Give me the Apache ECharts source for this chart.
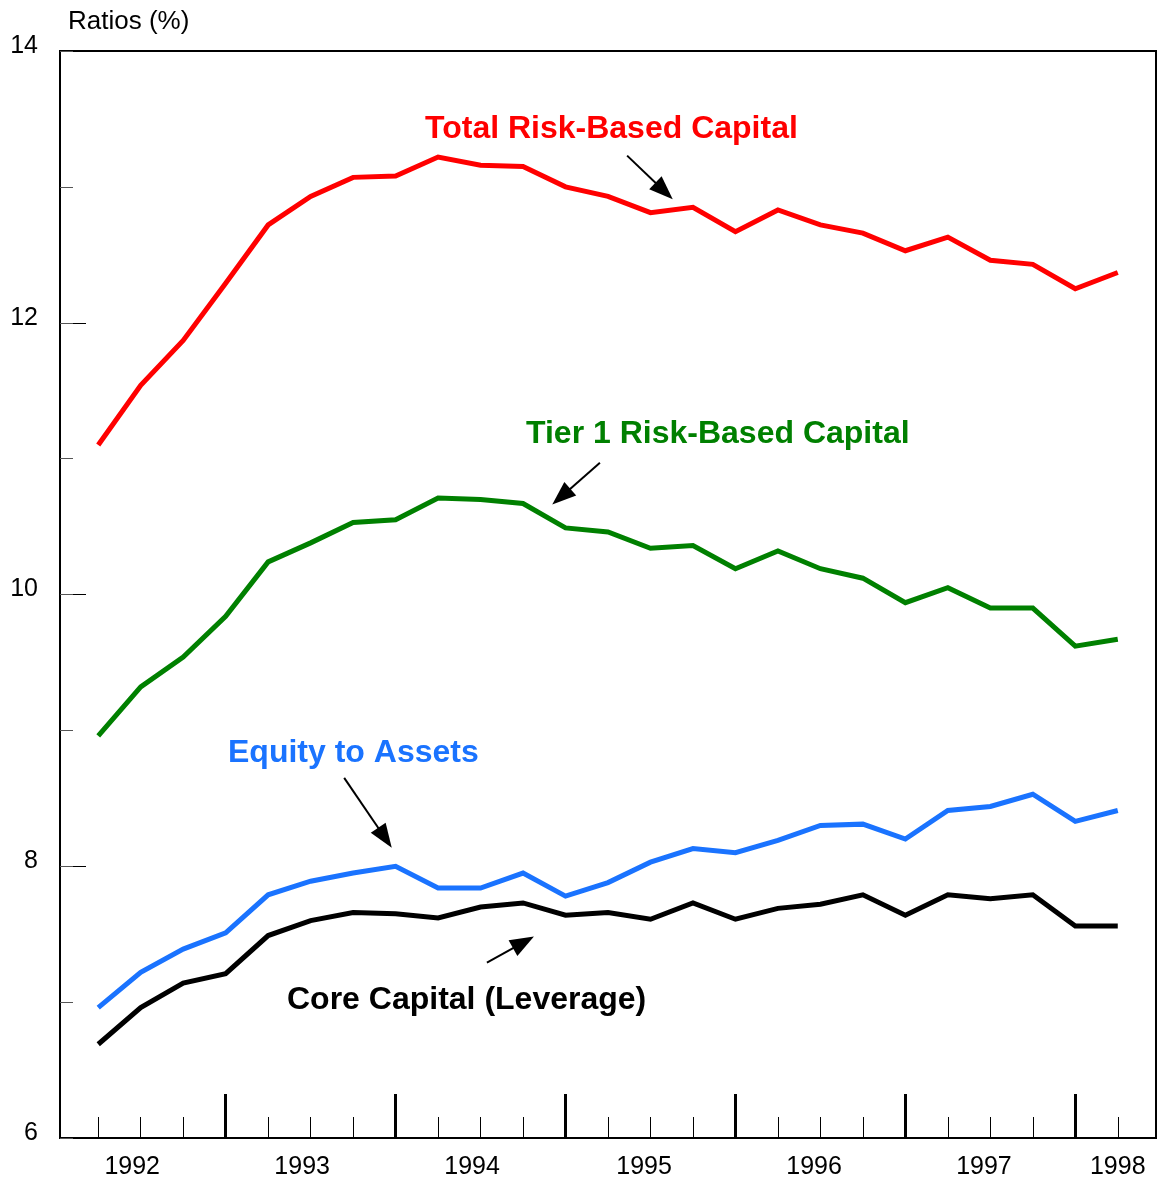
<!DOCTYPE html>
<html>
<head>
<meta charset="utf-8">
<script src="https://cdn.jsdelivr.net/npm/echarts@6/dist/echarts.min.js"></script>
<style>
  html, body { margin: 0; padding: 0; background: #fff; }
  #chart { width: 1158px; height: 1184px; }
</style>
</head>
<body>
<div id="chart"></div>
<script>
const quarters = [
  '1992Q1', '1992Q2', '1992Q3', '1992Q4',
  '1993Q1', '1993Q2', '1993Q3', '1993Q4',
  '1994Q1', '1994Q2', '1994Q3', '1994Q4',
  '1995Q1', '1995Q2', '1995Q3', '1995Q4',
  '1996Q1', '1996Q2', '1996Q3', '1996Q4',
  '1997Q1', '1997Q2', '1997Q3', '1997Q4',
  '1998Q1'
];
const totalRiskBased = [11.10, 11.54, 11.87, 12.29, 12.72, 12.93, 13.07, 13.08, 13.22, 13.16, 13.15, 13.00, 12.93, 12.81, 12.85, 12.67, 12.83, 12.72, 12.66, 12.53, 12.63, 12.46, 12.43, 12.25, 12.37];
const tier1RiskBased = [8.96, 9.32, 9.54, 9.84, 10.24, 10.38, 10.53, 10.55, 10.71, 10.70, 10.67, 10.49, 10.46, 10.34, 10.36, 10.19, 10.32, 10.19, 10.12, 9.94, 10.05, 9.90, 9.90, 9.62, 9.67];
const equityToAssets = [6.96, 7.22, 7.39, 7.51, 7.79, 7.89, 7.95, 8.00, 7.84, 7.84, 7.95, 7.78, 7.88, 8.03, 8.13, 8.10, 8.19, 8.30, 8.31, 8.20, 8.41, 8.44, 8.53, 8.33, 8.41];
const coreCapital = [6.69, 6.96, 7.14, 7.21, 7.49, 7.60, 7.66, 7.65, 7.62, 7.70, 7.73, 7.64, 7.66, 7.61, 7.73, 7.61, 7.69, 7.72, 7.79, 7.64, 7.79, 7.76, 7.79, 7.56, 7.56];
const yearLabels = ['1992', '1993', '1994', '1995', '1996', '1997', '1998'];

const FONT = "'Liberation Sans', Arial, sans-serif";

// quarter ticks: Q4 gets the tall tick
const shortTicks = [], tallTicks = [];
quarters.forEach((q, i) => (q.endsWith('Q4') ? tallTicks : shortTicks).push(i));
// year label spots along the quarter index axis
const yearLabelPos = [0.8, 4.8, 8.8, 12.85, 16.85, 20.85, 24];

const toPairs = arr => arr.map((v, i) => [i, v]);

const arrowLine = (from, to) => [{ coord: from }, { coord: to }];

const lineSeries = (name, values, color, arrow) => ({
  name: name,
  type: 'line',
  data: toPairs(values),
  showSymbol: false,
  symbol: 'none',
  lineStyle: { color: color, width: 5, join: 'miter' },
  itemStyle: { color: color },
  markLine: {
    silent: true,
    symbol: ['none', 'triangle'],
    symbolSize: [18, 24],
    label: { show: false },
    lineStyle: { color: '#000', width: 2, type: 'solid' },
    itemStyle: { color: '#000' },
    data: [arrowLine(arrow[0], arrow[1])]
  }
});

var myChart = echarts.init(document.getElementById('chart'));

const xBase = {
  type: 'value',
  min: -0.9,
  max: 24.9,
  position: 'bottom',
  splitLine: { show: false }
};

option = {
  animation: false,
  grid: {
    left: 60,
    right: 2,
    top: 51,
    bottom: 46,
    show: true,
    borderColor: '#000',
    borderWidth: 2,
    backgroundColor: 'transparent'
  },
  xAxis: [
    Object.assign({}, xBase, {
      axisLine: { show: true, onZero: false, lineStyle: { color: '#000', width: 2 } },
      axisTick: { show: true, inside: true, length: 21, customValues: shortTicks, lineStyle: { color: '#000', width: 1 } },
      axisLabel: {
        show: true,
        customValues: yearLabelPos,
        margin: 17,
        color: '#000',
        fontSize: 25,
        fontFamily: FONT,
        formatter: v => yearLabels[yearLabelPos.indexOf(v)]
      }
    }),
    Object.assign({}, xBase, {
      axisLine: { show: false, onZero: false },
      axisTick: { show: true, inside: true, length: 44, customValues: tallTicks, lineStyle: { color: '#000', width: 3 } },
      axisLabel: { show: false }
    })
  ],
  yAxis: [
    {
      type: 'value',
      min: 6,
      max: 14,
      interval: 2,
      position: 'left',
      splitLine: { show: false },
      axisLine: { show: true, onZero: false, lineStyle: { color: '#000', width: 2 } },
      axisTick: { show: true, inside: true, length: 26, lineStyle: { color: '#000', width: 1 } },
      axisLabel: {
        color: '#000',
        fontSize: 25,
        fontFamily: FONT,
        margin: 22,
        formatter: '{a|{value}}',
        rich: {
          a: { fontSize: 25, fontFamily: FONT, color: '#000', padding: [0, 0, 10, 0] }
        }
      }
    },
    {
      type: 'value',
      min: 6,
      max: 14,
      interval: 1,
      position: 'left',
      splitLine: { show: false },
      axisLine: { show: false, onZero: false },
      axisTick: { show: true, inside: true, length: 13, lineStyle: { color: '#555', width: 1 } },
      axisLabel: { show: false }
    }
  ],
  series: [
    lineSeries('Total Risk-Based Capital', totalRiskBased, '#ff0000', [[12.45, 13.23], [13.32, 12.97]]),
    lineSeries('Tier 1 Risk-Based Capital', tier1RiskBased, '#008000', [[11.81, 10.97], [10.90, 10.72]]),
    lineSeries('Equity to Assets', equityToAssets, '#1a73ff', [[5.79, 8.65], [6.75, 8.21]]),
    lineSeries('Core Capital (Leverage)', coreCapital, '#000000', [[9.15, 7.29], [10.01, 7.44]])
  ],
  graphic: [
    {
      type: 'text', left: 68, top: 9,
      style: { text: 'Ratios (%)', fill: '#000', font: '26px ' + FONT }
    },
    {
      type: 'text', left: 425, top: 113,
      style: { text: 'Total Risk-Based Capital', fill: '#ff0000', font: 'bold 32px ' + FONT }
    },
    {
      type: 'text', left: 526, top: 418,
      style: { text: 'Tier 1 Risk-Based Capital', fill: '#008000', font: 'bold 32px ' + FONT }
    },
    {
      type: 'text', left: 228, top: 737,
      style: { text: 'Equity to Assets', fill: '#1a73ff', font: 'bold 32px ' + FONT }
    },
    {
      type: 'text', left: 287, top: 984,
      style: { text: 'Core Capital (Leverage)', fill: '#000', font: 'bold 32px ' + FONT }
    }
  ]
};

myChart.setOption(option);
</script>
</body>
</html>
